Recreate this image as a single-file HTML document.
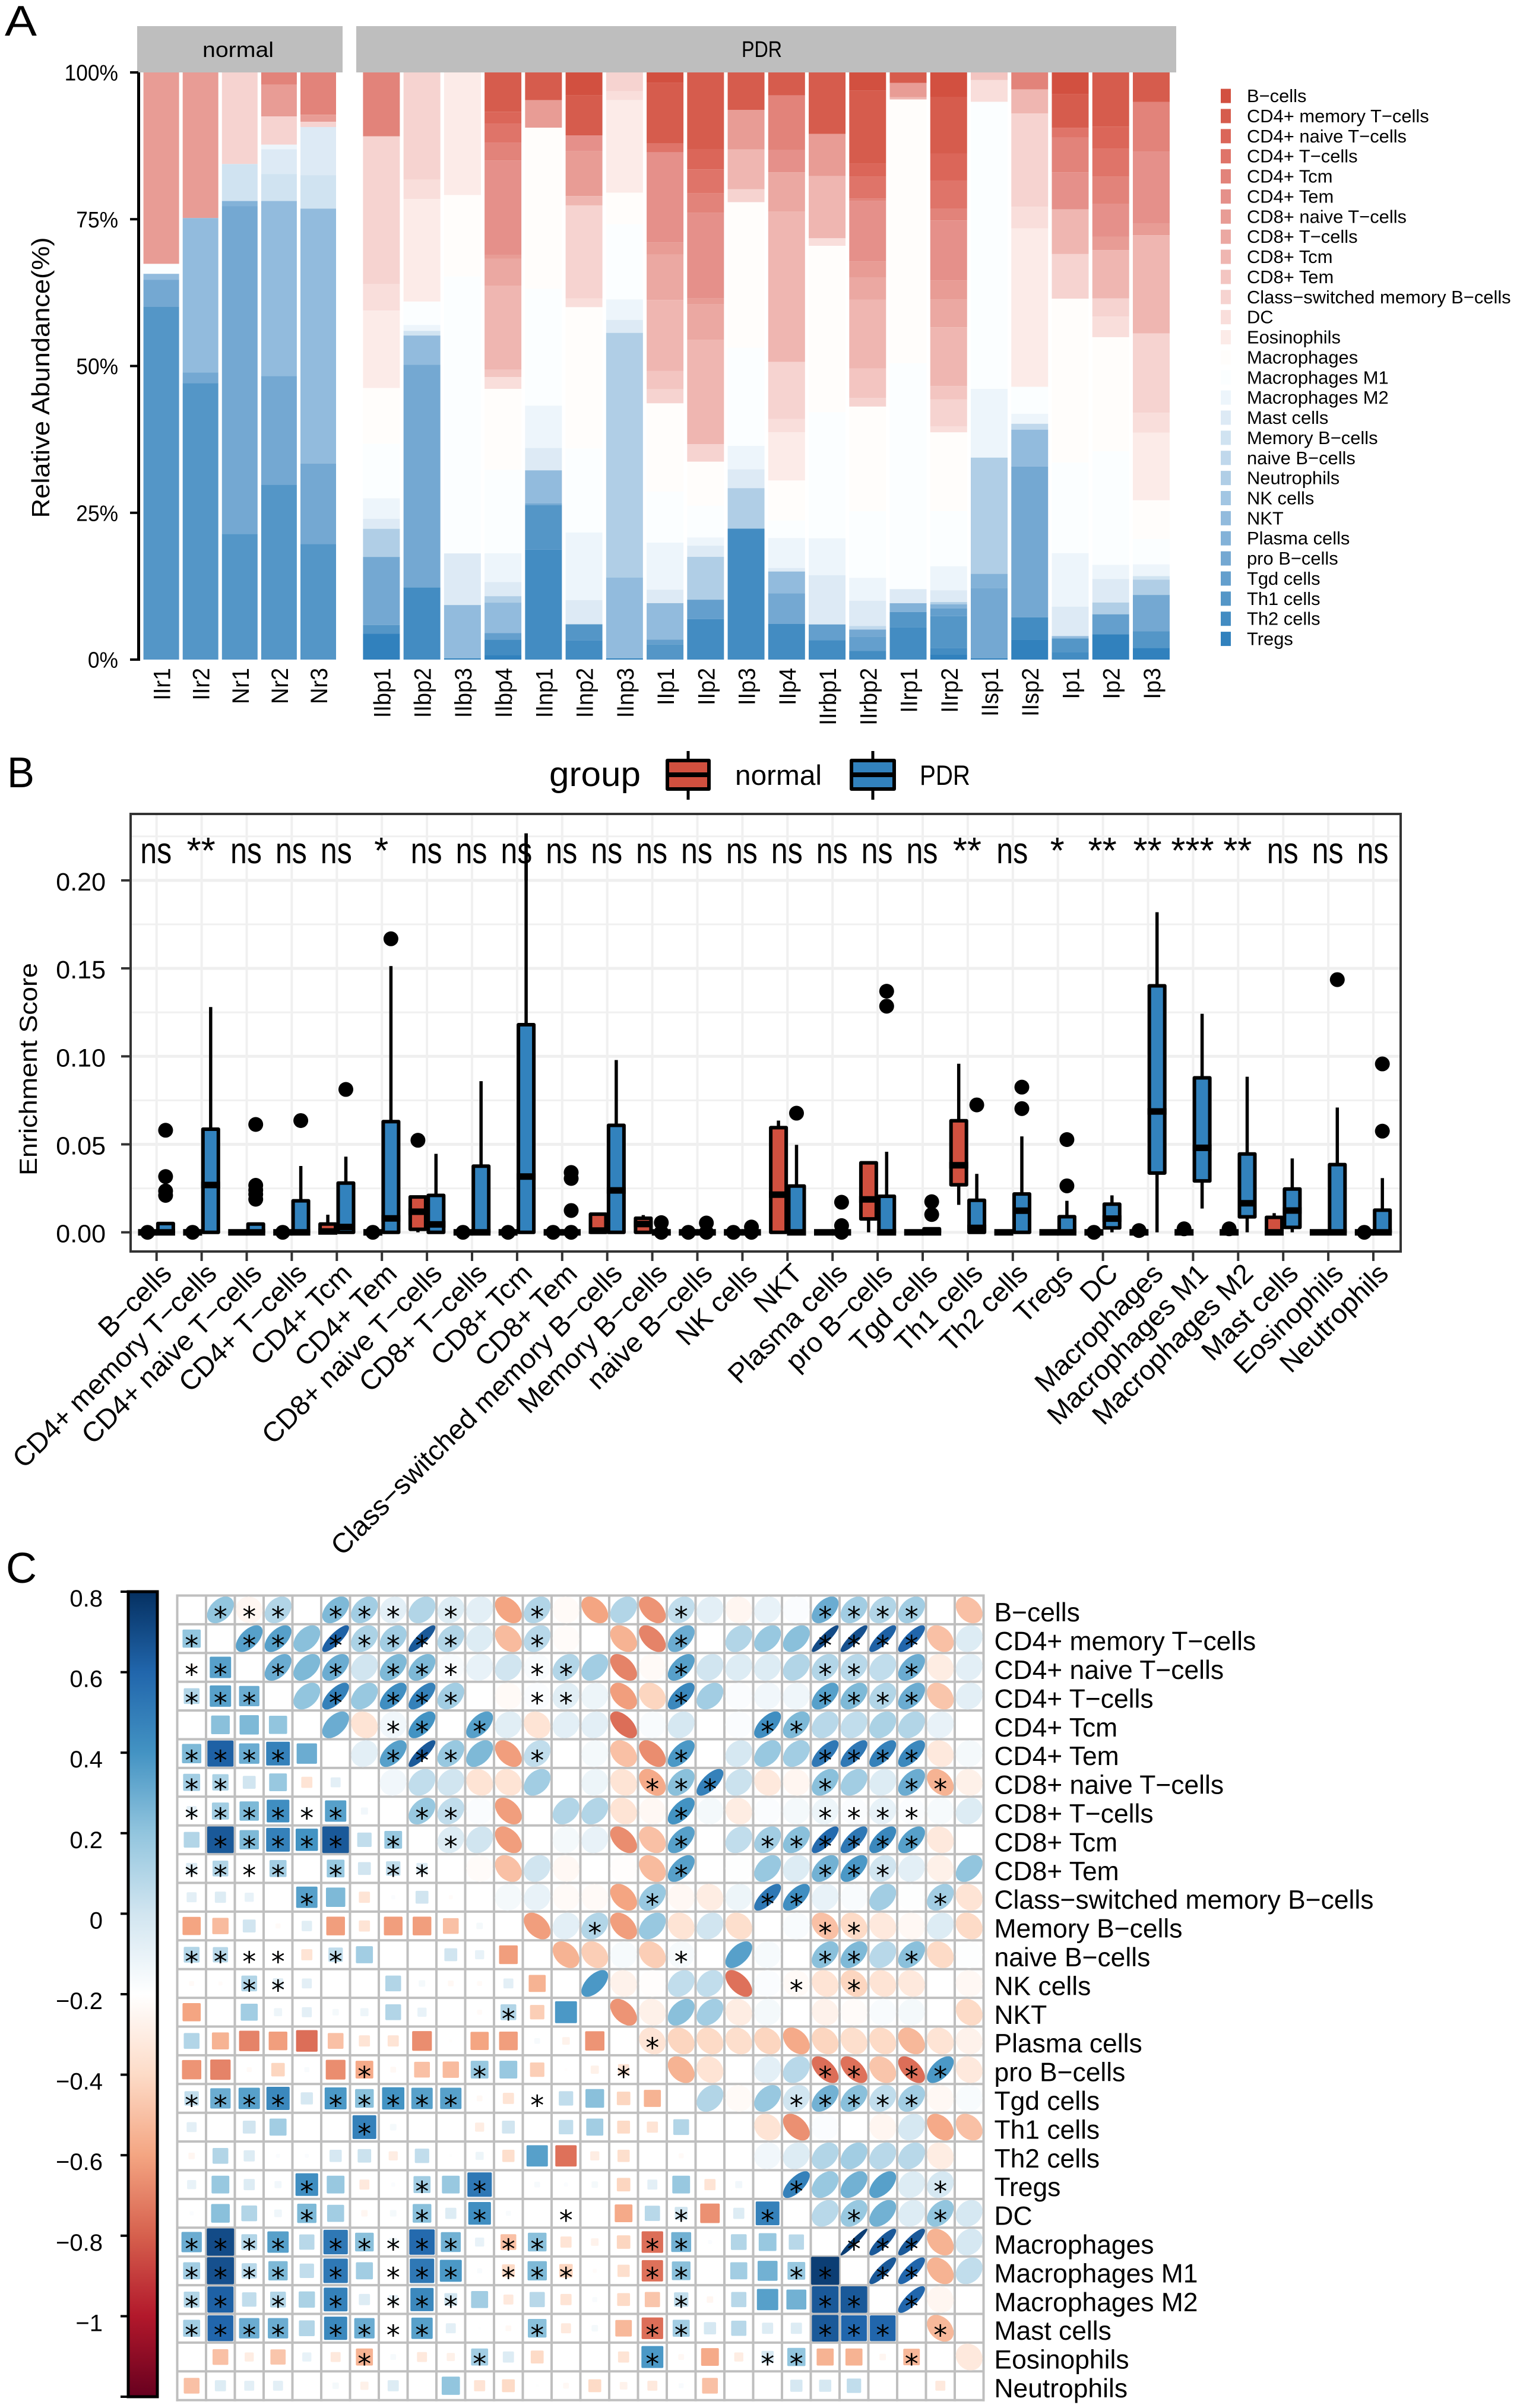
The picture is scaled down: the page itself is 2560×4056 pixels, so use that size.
<!DOCTYPE html>
<html lang="en">
<head>
<meta charset="utf-8">
<title>Immune cell infiltration figure</title>
<style>
html,body{margin:0;padding:0;background:#fff;}
svg{display:block;font-family:"Liberation Sans",sans-serif;}
</style>
</head>
<body>
<svg id="fig" xmlns="http://www.w3.org/2000/svg" width="2560" height="4056" viewBox="0 0 2560 4056">
  <rect x="0" y="0" width="2560" height="4056" fill="#fff"/>
  <text x="8" y="60" font-size="72" textLength="54" lengthAdjust="spacingAndGlyphs">A</text>
  <text x="12" y="1326" font-size="72" textLength="46" lengthAdjust="spacingAndGlyphs">B</text>
  <text x="10" y="2666" font-size="72" textLength="52" lengthAdjust="spacingAndGlyphs">C</text>

  <rect x="231" y="44" width="346" height="78" fill="#bebebe"/>
  <rect x="600" y="44" width="1381" height="78" fill="#bebebe"/>
  <text x="401" y="96" font-size="36" text-anchor="middle" textLength="120" lengthAdjust="spacingAndGlyphs">normal</text>
  <text x="1283" y="96" font-size="38" text-anchor="middle" textLength="68" lengthAdjust="spacingAndGlyphs">PDR</text>
  <text transform="translate(83,636) rotate(-90)" font-size="42" text-anchor="middle" textLength="473" lengthAdjust="spacingAndGlyphs">Relative Abundance(%)</text>
  <g id="panelA"></g>
  <g id="legendA"></g>

  <text x="925" y="1324" font-size="58" textLength="154" lengthAdjust="spacingAndGlyphs">group</text>
  <g>
    <line x1="1159" y1="1265" x2="1159" y2="1347" stroke="#000" stroke-width="5"/>
    <rect x="1124" y="1281" width="70" height="48" fill="#d1503f" stroke="#000" stroke-width="6" stroke-linejoin="round"/>
    <line x1="1124" y1="1305" x2="1194" y2="1305" stroke="#000" stroke-width="8"/>
    <text x="1238" y="1322" font-size="47" textLength="146" lengthAdjust="spacingAndGlyphs">normal</text>
  </g>
  <g>
    <line x1="1470" y1="1265" x2="1470" y2="1347" stroke="#000" stroke-width="5"/>
    <rect x="1434" y="1281" width="72" height="48" fill="#3282bd" stroke="#000" stroke-width="6" stroke-linejoin="round"/>
    <line x1="1434" y1="1305" x2="1506" y2="1305" stroke="#000" stroke-width="8"/>
    <text x="1549" y="1322" font-size="47" textLength="85" lengthAdjust="spacingAndGlyphs">PDR</text>
  </g>
  <text transform="translate(62,1801) rotate(-90)" font-size="42" text-anchor="middle" textLength="358" lengthAdjust="spacingAndGlyphs">Enrichment Score</text>
  <g id="panelB"></g>

  <defs>
    <linearGradient id="barGrad" x1="0" y1="0" x2="0" y2="1">
      <stop offset="0" stop-color="#053061"/>
      <stop offset="0.1" stop-color="#2166ac"/>
      <stop offset="0.2" stop-color="#4393c3"/>
      <stop offset="0.3" stop-color="#92c5de"/>
      <stop offset="0.4" stop-color="#d1e5f0"/>
      <stop offset="0.5" stop-color="#ffffff"/>
      <stop offset="0.6" stop-color="#fddbc7"/>
      <stop offset="0.7" stop-color="#f4a582"/>
      <stop offset="0.8" stop-color="#d6604d"/>
      <stop offset="0.9" stop-color="#b2182b"/>
      <stop offset="1" stop-color="#67001f"/>
    </linearGradient>
  </defs>
  <rect x="216" y="2681" width="49" height="1356" fill="url(#barGrad)" stroke="#000" stroke-width="5"/>
  <g id="panelC"></g>
</svg>

<script>
/* ---------- shared ---------- */
const cellTypesStack = ['B−cells','CD4+ memory T−cells','CD4+ naive T−cells','CD4+ T−cells','CD4+ Tcm','CD4+ Tem','CD8+ naive T−cells','CD8+ T−cells','CD8+ Tcm','CD8+ Tem','Class−switched memory B−cells','DC','Eosinophils','Macrophages','Macrophages M1','Macrophages M2','Mast cells','Memory B−cells','naive B−cells','Neutrophils','NK cells','NKT','Plasma cells','pro B−cells','Tgd cells','Th1 cells','Th2 cells','Tregs'];
const stackColors = ['#d25040','#d65c4d','#db6659','#df7469','#e2837a','#e5908a','#e89c95','#eba8a2','#efb6b1','#f3c5c1','#f6d3d0','#f9dedb','#fcebe8','#fffdfb','#fbfeff','#edf5fb','#ddeaf5','#d0e3f1','#c0d8ec','#b0cee6','#a2c6e3','#92bbdd','#83b2d8','#74a8d2','#649fcd','#5496c7','#438cc2','#3181bd'];

/* ---------- panel A values: percent per cell type, 28 per sample ---------- */
const IIr1  =[0,0,0,0,0,0,32.6, 0,0,0,0,0,0,0, 1.7,0,0,0,0,0,0, 1,0,4.6,0,60.1,0,0];
const IIr2  =[0,0,0,0,0,0,24.8, 0,0,0,0,0,0,0, 0,0,0,0,0,0,0, 26.3,0,1.8,0,47.1,0,0];
const Nr1   =[0,0,0,0,0,0,0, 0,0,0,15.6,0,0,0, 0,0,0,6.3,0,0,0, 0,.9,55.8,0,21.4,0,0];
const Nr2   =[0,0,0,0,2.1,0,5.4, 0,0,0,4.8,0,0,0, 0,.8,4.2,4.6,0,0,0, 29.8,0,18.5,0,29.8,0,0];
const Nr3   =[0,0,0,0,7.2,0,1.2, 0,0,0,.9,0,0,0, 0,0,8.2,5.7,0,0,0, 43.4,0,13.7,0,19.7,0,0];
const IIbp1 =[0,0,0,0,10.9,0,0, 0,0,0,25.2,4.5,13.2,9.5, 9.3,3.5,1.7,0,0,4.8,0, 0,0,11.6,0,1.5,0,4.4];
const IIbp2 =[0,0,0,0,0,0,0, 0,0,0,18.3,3.3,17.5,0, 4,1,0,.8,0,0,0, 5,0,38,0,0,12.3,0];
const IIbp3 =[0,0,0,0,0,0,0, 0,0,0,0,0,20.9,13.9, 47.2,0,8.8,0,0,0,0, 9.1,0,0,0,0,0,.2];
const IIbp4 =[0,6.7,2,3.3,3,16.1,.6, 4.6,14.3,1.3,0,2,0,13.8, 14.2,4.9,2.4,0,0,1.1,0, 5.2,0,0,1.1,0,2.6,.8];
const IInp1 =[0,4.7,0,0,0,0,4.7, 0,0,0,0,0,0,27.4, 19.9,7.2,3.8,0,0,0,0, 5.6,0,.3,0,7.6,18.7,0];
const IInp2 =[3.9,6.8,0,0,0,2.7,7.6, 0,1.6,0,15.8,1.5,0,24, 14.3,11.5,4.1,0,0,0,0, 0,0,0,0,2.7,3.3,0];
const IInp3 =[0,0,0,0,0,0,0, 0,0,0,3.2,1.5,15.8,5.4, 12.8,3.5,2.2,0,0,41.7,0, 13.8,0,0,0,0,0,.2];
const IIp1  =[1.8,10.3,0,1.5,0,15.3,2.1, 7.7,12.1,3.1,2.4,0,0,15, 8.7,8,2.3,0,0,0,0, 6.2,0,0,.8,2.6,0,0];
const IIp2  =[0,13.1,3.4,4.1,3.3,14.6,1, 6,17.8,0,3,0,0,7.5, 5.4,1.4,1.9,0,0,7.3,0, 0,0,0,3.3,0,6.9,0];
const IIp3  =[0,6.4,0,0,0,0,6.7, 0,6.8,0,2.2,0,0,24.8, 16.7,4,3.2,0,0,6.9,0, 0,0,0,0,0,22.3,0];
const IIp4  =[0,3.9,0,0,9.3,3.8,0, 6.7,25.6,0,9.7,2.3,8.2,6.8, 3,5.1,.6,0,0,0,0, 3.7,0,5.2,0,0,6.1,0];
const IIrbp1=[0,10.5,0,0,0,0,7.2, 0,10.6,0,0,1.3,0,28.4, 21.5,6.3,8.4,0,0,0,0, 0,0,0,2.7,0,3.3,0];
const IIrbp2=[3.1,12.4,2.2,3.7,.4,10.3,2.8, 3.7,11.7,5,1.5,0,0,17.8, 11.3,3.9,4.3,0,.6,0,0, 0,0,1.2,2.4,0,1.5,0];
const IIrp1 =[0,1.8,0,0,0,0,2.4, 0,.4,0,0,0,0,44.9, 38.5,0,2.4,0,0,0,0, 0,1.5,0,0,2.6,5.5,0];
const IIrp2 =[4.2,9.6,4.6,4.8,2,10.2,3.3, 4.7,10,2.3,4.6,1,0,13.4, 9.4,4.1,2,0,0,.4,0, 0,.7,0,1.3,5.4,1.1,.9];
const IIsp1 =[0,0,0,0,0,0,0, 0,0,1.3,0,3.7,0,0, 48.9,11.7,0,0,0,19.8,0, 0,2.4,12,0,0,0,.2];
const IIsp2 =[0,0,0,0,2.9,0,0, 0,4.1,0,15.9,3.7,27,0, 4.6,1.7,0,0,1,0,0, 6.3,0,25.7,0,0,3.8,3.4];
const Ip1   =[3.7,5.7,0,1.7,5.9,6.3,0, 0,7.6,0,7.6,0,0,27.9, 15.4,9.1,5,0,0,0,0, .4,0,0,0,2.3,1.3,0];
const Ip2   =[0,9.2,3.8,4.7,4.6,5.6,2.3, 0,8.2,0,3.1,3.5,0,19.4, 19.3,2.4,4,0,0,2,0, 0,0,0,3.4,0,0,4.3];
const Ip3   =[0,5,0,0,8.5,12.2,2, 0,16.7,0,13.5,3.4,11.5,6.6, 4.3,2,0,.6,0,2.6,0, 0,0,6.2,0,2.8,0,2];
const normalSamples = ['IIr1','IIr2','Nr1','Nr2','Nr3'];
const normalValues  = [IIr1,IIr2,Nr1,Nr2,Nr3];
const pdrSamples = ['IIbp1','IIbp2','IIbp3','IIbp4','IInp1','IInp2','IInp3','IIp1','IIp2','IIp3','IIp4','IIrbp1','IIrbp2','IIrp1','IIrp2','IIsp1','IIsp2','Ip1','Ip2','Ip3'];
const pdrValues  = [IIbp1,IIbp2,IIbp3,IIbp4,IInp1,IInp2,IInp3,IIp1,IIp2,IIp3,IIp4,IIrbp1,IIrbp2,IIrp1,IIrp2,IIsp1,IIsp2,Ip1,Ip2,Ip3];
const percentTicks = [0,25,50,75,100];

/* ---------- panel B values ---------- */
const boxCategories = ['B−cells','CD4+ memory T−cells','CD4+ naive T−cells','CD4+ T−cells','CD4+ Tcm','CD4+ Tem','CD8+ naive T−cells','CD8+ T−cells','CD8+ Tcm','CD8+ Tem','Class−switched memory B−cells','Memory B−cells','naive B−cells','NK cells','NKT','Plasma cells','pro B−cells','Tgd cells','Th1 cells','Th2 cells','Tregs','DC','Macrophages','Macrophages M1','Macrophages M2','Mast cells','Eosinophils','Neutrophils'];
const significance = ['ns','**','ns','ns','ns','*','ns','ns','ns','ns','ns','ns','ns','ns','ns','ns','ns','ns','**','ns','*','**','**','***','**','ns','ns','ns'];
const scoreTicks = [0,0.05,0.10,0.15,0.20];
const scoreMinorTicks = [0.025,0.075,0.125,0.175,0.225];
/* whisker-low, q1, median, q3, whisker-high */
const normalBoxes = [[0,0,0,0,0],[0,0,0,0,0],[0,0,0,0,0],[0,0,0,0,0],[0,0,.0005,.0047,.01],[0,0,0,0,0],[0,.0017,.0117,.0201,.0201],[0,0,0,0,0],[0,0,0,0,0],[0,0,0,0,0],[0,0,.001,.0103,.0103],[0,0,.0047,.008,.0098],[0,0,0,0,0],[0,0,0,0,0],[0,0,.0214,.0595,.0635],[0,0,0,0,0],[0,.0076,.0187,.0395,.0395],[0,0,0,0,0],[.0156,.027,.0381,.0634,.0958],[0,0,0,0,0],[0,0,0,0,0],[0,0,0,0,0],[0,0,0,0,0],[0,0,0,0,0],[0,0,0,0,0],[0,0,0,.0085,.0109],[0,0,0,0,0],[0,0,0,0,0]];
const pdrBoxes = [[0,0,0,.005,.005],[0,0,.0269,.0586,.128],[0,0,0,.0047,.0047],[0,0,0,.0179,.0377],[0,0,.003,.028,.043],[0,0,.0079,.0629,.1513],[0,0,.0045,.021,.0446],[0,0,0,.0376,.0859],[0,0,.0317,.118,.2267],[0,0,0,0,0],[0,0,.0238,.0608,.0979],[0,0,0,0,0],[0,0,0,0,0],[0,0,0,0,0],[0,0,0,.0263,.0497],[0,0,0,0,0],[0,0,0,.0205,.0458],[0,0,0,.002,.002],[0,0,.0025,.0182,.0332],[0,0,.0123,.0218,.0545],[0,0,0,.0089,.0179],[0,.0025,.0078,.016,.021],[0,.0337,.0687,.1401,.1819],[.0135,.0292,.048,.0878,.1242],[0,.0088,.0165,.0445,.0884],[0,.0028,.0124,.0246,.042],[0,0,0,.0385,.0709],[0,0,0,.0126,.0308]];
const normalOutliers = [[0],[0],[],[0],[],[0],[.0523],[0],[0],[0],[],[],[0],[0],[],[],[],[],[],[],[],[0],[.001],[.002],[.002],[],[],[0]];
const pdrOutliers = [[.058,.0317,.0235,.021],[],[.0613,.0267,.024,.0216,.0188],[.0635],[.0812],[.1668],[],[],[],[.034,.0306,.0124,0],[],[.0055,0],[.0053,0],[.003,0],[.0677],[.0171,.0038,0],[.137,.1285],[.0174,.0101],[.0724],[.0825,.0703],[.0527,.0264],[],[],[],[],[],[.1436],[.0957,.0575]];

/* ---------- panel C values: upper triangle, row k holds columns k+1..27 ---------- */
const corrLabels = boxCategories;
const corrRow0=[.4,-.05,.3,0,.45,.35,.12,.3,.15,.12,-.4,.3,-.03,-.4,.3,-.45,.25,.12,-.05,.1,.02,.5,.35,.3,.35,0,-.3];
const corrRow1=[.55,.55,.42,.82,.32,.35,.85,.3,.15,-.32,.28,-.02,0,-.35,-.5,.5,0,.3,.38,.42,.9,.88,.82,.8,-.3,.15];
const corrRow2=[.5,.45,.5,.2,.45,.45,.03,.1,.2,.03,.3,.35,-.5,-.03,.55,.2,.15,.15,.3,.3,.28,.25,.5,-.1,.12];
const corrRow3=[.4,.68,.38,.62,.68,.35,0,-.03,.02,.13,.08,-.42,-.22,.65,.35,.02,.06,.07,.55,.45,.3,.5,-.28,.12];
const corrRow4=[.5,-.15,.06,.6,0,.55,.13,-.15,.12,.12,-.56,.03,.18,0,.02,.62,.45,.28,.25,.32,.3,.1,0];
const corrRow5=[.12,.55,.85,.38,.45,-.42,.25,0,.05,-.3,-.47,.58,0,.18,.38,.35,.72,.72,.68,.65,-.12,.05];
const corrRow6=[.06,.25,.2,-.15,-.15,.35,0,.08,-.15,-.38,.42,.68,.22,-.12,-.05,.42,.35,.15,.5,-.35,-.08];
const corrRow7=[.38,.25,.02,-.42,0,.3,.3,-.15,-.04,.6,.05,-.1,.02,.05,.08,.02,.1,.02,.04,.15];
const corrRow8=[.15,.2,-.42,0,.05,.1,-.47,-.3,.55,0,.25,.35,.42,.78,.72,.65,.55,-.12,0];
const corrRow9=[-.02,-.3,.2,-.04,0,-.01,-.32,.55,0,.01,.38,.15,.48,.58,.2,.12,-.08,.4];
const corrRow10=[.05,.1,-.03,-.03,-.4,.38,-.04,-.1,.08,.72,.62,.1,.03,.35,.01,.35,-.15];
const corrRow11=[-.42,.12,.3,-.42,.38,-.15,.2,-.18,0,.03,-.3,-.2,-.12,-.04,.15,-.2];
const corrRow12=[-.35,-.25,.04,-.25,.04,0,.55,.04,0,.42,.45,.28,.42,-.2,.01];
const corrRow13=[.58,-.07,-.01,.25,.25,-.55,.02,-.03,-.15,-.22,-.15,-.12,0,-.04];
const corrRow14=[-.45,-.08,.42,.35,-.1,.05,0,-.07,-.02,.03,.05,0,-.2];
const corrRow15=[-.15,-.22,-.2,-.18,-.22,-.38,-.22,-.18,-.2,-.33,-.15,-.07];
const corrRow16=[-.35,-.15,0,.12,.28,-.56,-.55,-.28,-.56,.58,-.12];
const corrRow17=[.3,-.03,.38,.2,.48,.42,.25,.35,-.04,.03];
const corrRow18=[0,-.15,-.46,.02,0,-.05,.18,-.38,-.3];
const corrRow19=[.06,.15,.3,.35,.28,.28,-.1,0];
const corrRow20=[.68,.38,.48,.55,.15,.18,0];
const corrRow21=[.28,.38,.48,.15,.4,.18];
const corrRow22=[.95,.85,.85,-.35,.18];
const corrRow23=[.85,.8,-.35,.25];
const corrRow24=[.8,-.05,0];
const corrRow25=[-.33,0];
const corrRow26=[-.12];
const corrUpper=[corrRow0,corrRow1,corrRow2,corrRow3,corrRow4,corrRow5,corrRow6,corrRow7,corrRow8,corrRow9,corrRow10,corrRow11,corrRow12,corrRow13,corrRow14,corrRow15,corrRow16,corrRow17,corrRow18,corrRow19,corrRow20,corrRow21,corrRow22,corrRow23,corrRow24,corrRow25,corrRow26];
/* columns (greater than the row) that carry a significance star */
const sigColumns=[[1,2,3,5,6,7,9,12,17,22,23,24,25],[2,3,5,6,7,8,9,12,17,22,23,24,25],[3,5,7,8,9,12,13,17,22,23,25],[5,7,8,9,12,13,17,22,23,24,25],[7,8,10,20,21],[7,8,9,12,17,22,23,24,25],[16,17,18,22,25,26],[8,9,17,22,23,24,25],[9,17,20,21,22,23,24,25],[17,22,23,24],[16,20,21,26],[14,22,23],[17,22,23,25],[21,23],[],[16],[22,23,25,26],[21,22,23,24,25],[],[],[21,26],[23,26],[23,24,25],[24,25],[25],[26],[]];
const colorbarTicks=['0.8','0.6','0.4','0.2','0','−0.2','−0.4','−0.6','−0.8','−1',''];
const colorbarValues=[0.8,0.6,0.4,0.2,0,-0.2,-0.4,-0.6,-0.8,-1,-1.2];
const corrStops=['#67001f','#b2182b','#d6604d','#f4a582','#fddbc7','#ffffff','#d1e5f0','#92c5de','#4393c3','#2166ac','#053061'];

/* ---------- helpers ---------- */
const NS='http://www.w3.org/2000/svg';
function mk(parent,tag,attrs,text){
  const e=document.createElementNS(NS,tag);
  for(const k in attrs){e.setAttribute(k,attrs[k]);}
  if(text!==undefined){e.textContent=text;}
  parent.appendChild(e);
  return e;
}
function squeeze(e,f){
  e.setAttribute('textLength',(e.getComputedTextLength()*f).toFixed(1));
  e.setAttribute('lengthAdjust','spacingAndGlyphs');
}

/* ---------- panel A ---------- */
(function(){
  const g=document.getElementById('panelA');
  const yA=p=>1111-p*9.89;
  const xNormal=i=>241.6+i*66.1;
  const xPdr=i=>611.4+i*68.24;
  function drawBar(x,w,row,label){
    const total=row.reduce((a,b)=>a+b,0);
    let top=0;
    row.forEach((v,t)=>{
      if(v<=0){return;}
      const pct=v/total*100;
      const seg=mk(g,'rect',{x:x,y:yA(100-top),width:w,height:pct*9.89,fill:stackColors[t]});
      
      
      top+=pct;
    });
    const lab=mk(g,'text',{transform:'translate('+(x+w/2+15)+',1125) rotate(-90)','font-size':40,'text-anchor':'end'},label);
    
    
    squeeze(lab,0.945);
  }
  normalSamples.forEach((s,i)=>drawBar(xNormal(i),60,normalValues[i],s));
  pdrSamples.forEach((s,i)=>drawBar(xPdr(i),62,pdrValues[i],s));

  const axis=mk(g,'line',{x1:233.5,y1:122,x2:233.5,y2:1113,stroke:'#000','stroke-width':5});
  
  
  percentTicks.forEach(p=>{
    const t=mk(g,'line',{x1:219,y1:yA(p),x2:233,y2:yA(p),stroke:'#000','stroke-width':4});
    
    
    const l=mk(g,'text',{x:199,y:yA(p)+13.5,'font-size':38,'text-anchor':'end'},p+'%');
    
    
    squeeze(l,0.93);
  });

  const lg=document.getElementById('legendA');
  cellTypesStack.forEach((name,i)=>{
    const cy=161.6+i*33.87;
    const s=mk(lg,'rect',{x:2056,y:cy-12,width:17,height:24,fill:stackColors[i]});
    
    
    const t=mk(lg,'text',{x:2100,y:cy+10.5,'font-size':30.9},name);
    
    
  });
})();

/* ---------- panel B ---------- */
(function(){
  const g=document.getElementById('panelB');
  const yB=v=>2075.7-v*2964;
  const xB=i=>263.7+i*75.9;
  const L=220,R=2359,T=1371,B=2108;
  scoreMinorTicks.forEach(v=>{
    const e=mk(g,'line',{x1:L,x2:R,y1:yB(v),y2:yB(v),stroke:'#f0f0f0','stroke-width':3});
    
    
  });
  scoreTicks.forEach(v=>{
    const e=mk(g,'line',{x1:L,x2:R,y1:yB(v),y2:yB(v),stroke:'#efefef','stroke-width':5});
    
    
    const t=mk(g,'line',{x1:204,x2:L,y1:yB(v),y2:yB(v),stroke:'#333','stroke-width':4});
    
    
    const l=mk(g,'text',{x:178,y:yB(v)+17,'font-size':43,'text-anchor':'end'},v.toFixed(2));
    
    
  });
  boxCategories.forEach((c,i)=>{
    const e=mk(g,'line',{x1:xB(i),x2:xB(i),y1:T,y2:B,stroke:'#f0f0f0','stroke-width':4});
    
    
  });
  function drawBox(cx,stats,fill,dots){
    const lo=stats[0],q1=stats[1],med=stats[2],q3=stats[3],hi=stats[4];
    dots.forEach(v=>{
      const d=mk(g,'circle',{cx:cx,cy:yB(v),r:12.5,fill:'#000'});
      
      
    });
    if(hi>q3){
      const w=mk(g,'line',{x1:cx,x2:cx,y1:yB(hi),y2:yB(q3),stroke:'#000','stroke-width':5.5});
      
      
    }
    if(lo<q1){
      const w=mk(g,'line',{x1:cx,x2:cx,y1:yB(q1),y2:yB(lo),stroke:'#000','stroke-width':5.5});
      
      
    }
    const b=mk(g,'rect',{x:cx-13,y:yB(q3),width:26,height:Math.max(yB(q1)-yB(q3),0.1),fill:fill,stroke:'#000','stroke-width':6,'stroke-linejoin':'round'});
    
    
    const m=mk(g,'line',{x1:cx-16,x2:cx+16,y1:yB(med),y2:yB(med),stroke:'#000','stroke-width':11});
    
    
  }
  boxCategories.forEach((c,i)=>{
    drawBox(xB(i)-15.2,normalBoxes[i],'#d1503f',normalOutliers[i]);
    drawBox(xB(i)+15.2,pdrBoxes[i],'#3282bd',pdrOutliers[i]);
  });
  boxCategories.forEach((c,i)=>{
    const s=significance[i];
    const f=s==='ns'?0.81:1;
    const t=mk(g,'text',{x:xB(i)-1,y:1454,'font-size':62,'text-anchor':'middle'},s);
    
    
    squeeze(t,f);
    const k=mk(g,'line',{x1:xB(i),x2:xB(i),y1:B,y2:2124,stroke:'#333','stroke-width':4});
    
    
    const l=mk(g,'text',{transform:'translate('+(xB(i)+28)+',2148) rotate(-45)','font-size':46.6,'text-anchor':'end'},c);
    
    
  });
  const frame=mk(g,'rect',{x:L,y:T,width:R-L,height:B-T,fill:'none',stroke:'#333','stroke-width':4});
  
  
  /* keep the tallest whisker above the significance row, as in the figure */
  const top=mk(g,'line',{x1:xB(8)+15.2,x2:xB(8)+15.2,y1:yB(pdrBoxes[8][4]),y2:yB(0.2),stroke:'#000','stroke-width':5.5});
  
  
})();

/* ---------- panel C ---------- */
(function(){
  const g=document.getElementById('panelC');
  const CELL=48.5, X0=298.5, Y0=2687.5, N=28;
  const xC=c=>X0+c*CELL;
  const yC=r=>Y0+r*48.4;
  const yBar=v=>2681+(0.8-v)*678;
  function hex(h){return [parseInt(h.substr(1,2),16),parseInt(h.substr(3,2),16),parseInt(h.substr(5,2),16)];}
  function corrColor(r){
    const t=Math.max(0,Math.min(9.9999,(r+1)*5));
    const i=Math.floor(t),f=t-i;
    const a=hex(corrStops[i]),b=hex(corrStops[i+1]);
    return 'rgb('+a.map((v,k)=>Math.round(v+(b[k]-v)*f)).join(',')+')';
  }
  colorbarValues.forEach((v,i)=>{
    const t=mk(g,'line',{x1:203,x2:216,y1:yBar(v),y2:yBar(v),stroke:'#000','stroke-width':4});
    
    
    if(colorbarTicks[i]){
      const l=mk(g,'text',{x:173,y:yBar(v)+25,'font-size':40,'text-anchor':'end'},colorbarTicks[i]);
      
      
    }
  });
  for(let i=0;i<=N;i++){
    const h=mk(g,'line',{x1:X0-2,x2:xC(N)+2,y1:yC(i),y2:yC(i),stroke:'#bfbfbf','stroke-width':4});
    
    
    const w=mk(g,'line',{x1:xC(i),x2:xC(i),y1:Y0-2,y2:yC(N)+2,stroke:'#bfbfbf','stroke-width':4});
    
    
  }
  const stars=[];
  corrUpper.forEach((row,k)=>{
    row.forEach((r,j)=>{
      const c=k+1+j;
      const col=corrColor(r);
      if(Math.abs(r)>=0.005){
        const R=22.5;
        const cx=xC(c)+CELL/2, cy=yC(k)+24.2;
        const el=mk(g,'ellipse',{cx:cx,cy:cy,rx:R*Math.sqrt(1+Math.abs(r)),ry:R*Math.sqrt(1-Math.abs(r)),fill:col,transform:'rotate('+(r>0?-45:45)+' '+cx+' '+cy+')'});
        
        
        const s=CELL*Math.sqrt(Math.abs(r));
        const cx2=xC(k)+CELL/2, cy2=yC(c)+24.2;
        const sq=mk(g,'rect',{x:cx2-s/2,y:cy2-s/2,width:s,height:s,rx:2,fill:col});
        
        
      }
      if(sigColumns[k].indexOf(c)>=0){
        stars.push([c,k]);
        stars.push([k,c]);
      }
    });
  });
  stars.forEach(p=>{
    const s=mk(g,'text',{x:xC(p[0])+CELL/2,y:yC(p[1])+52,'font-size':46,'text-anchor':'middle','font-family':'"DejaVu Sans",sans-serif'},'*');
    
    
  });
  corrLabels.forEach((name,i)=>{
    const t=mk(g,'text',{x:1674.5,y:yC(i)+24.2+19.5,'font-size':44.4},name);
    
    
  });
})();
</script>
</body>
</html>
